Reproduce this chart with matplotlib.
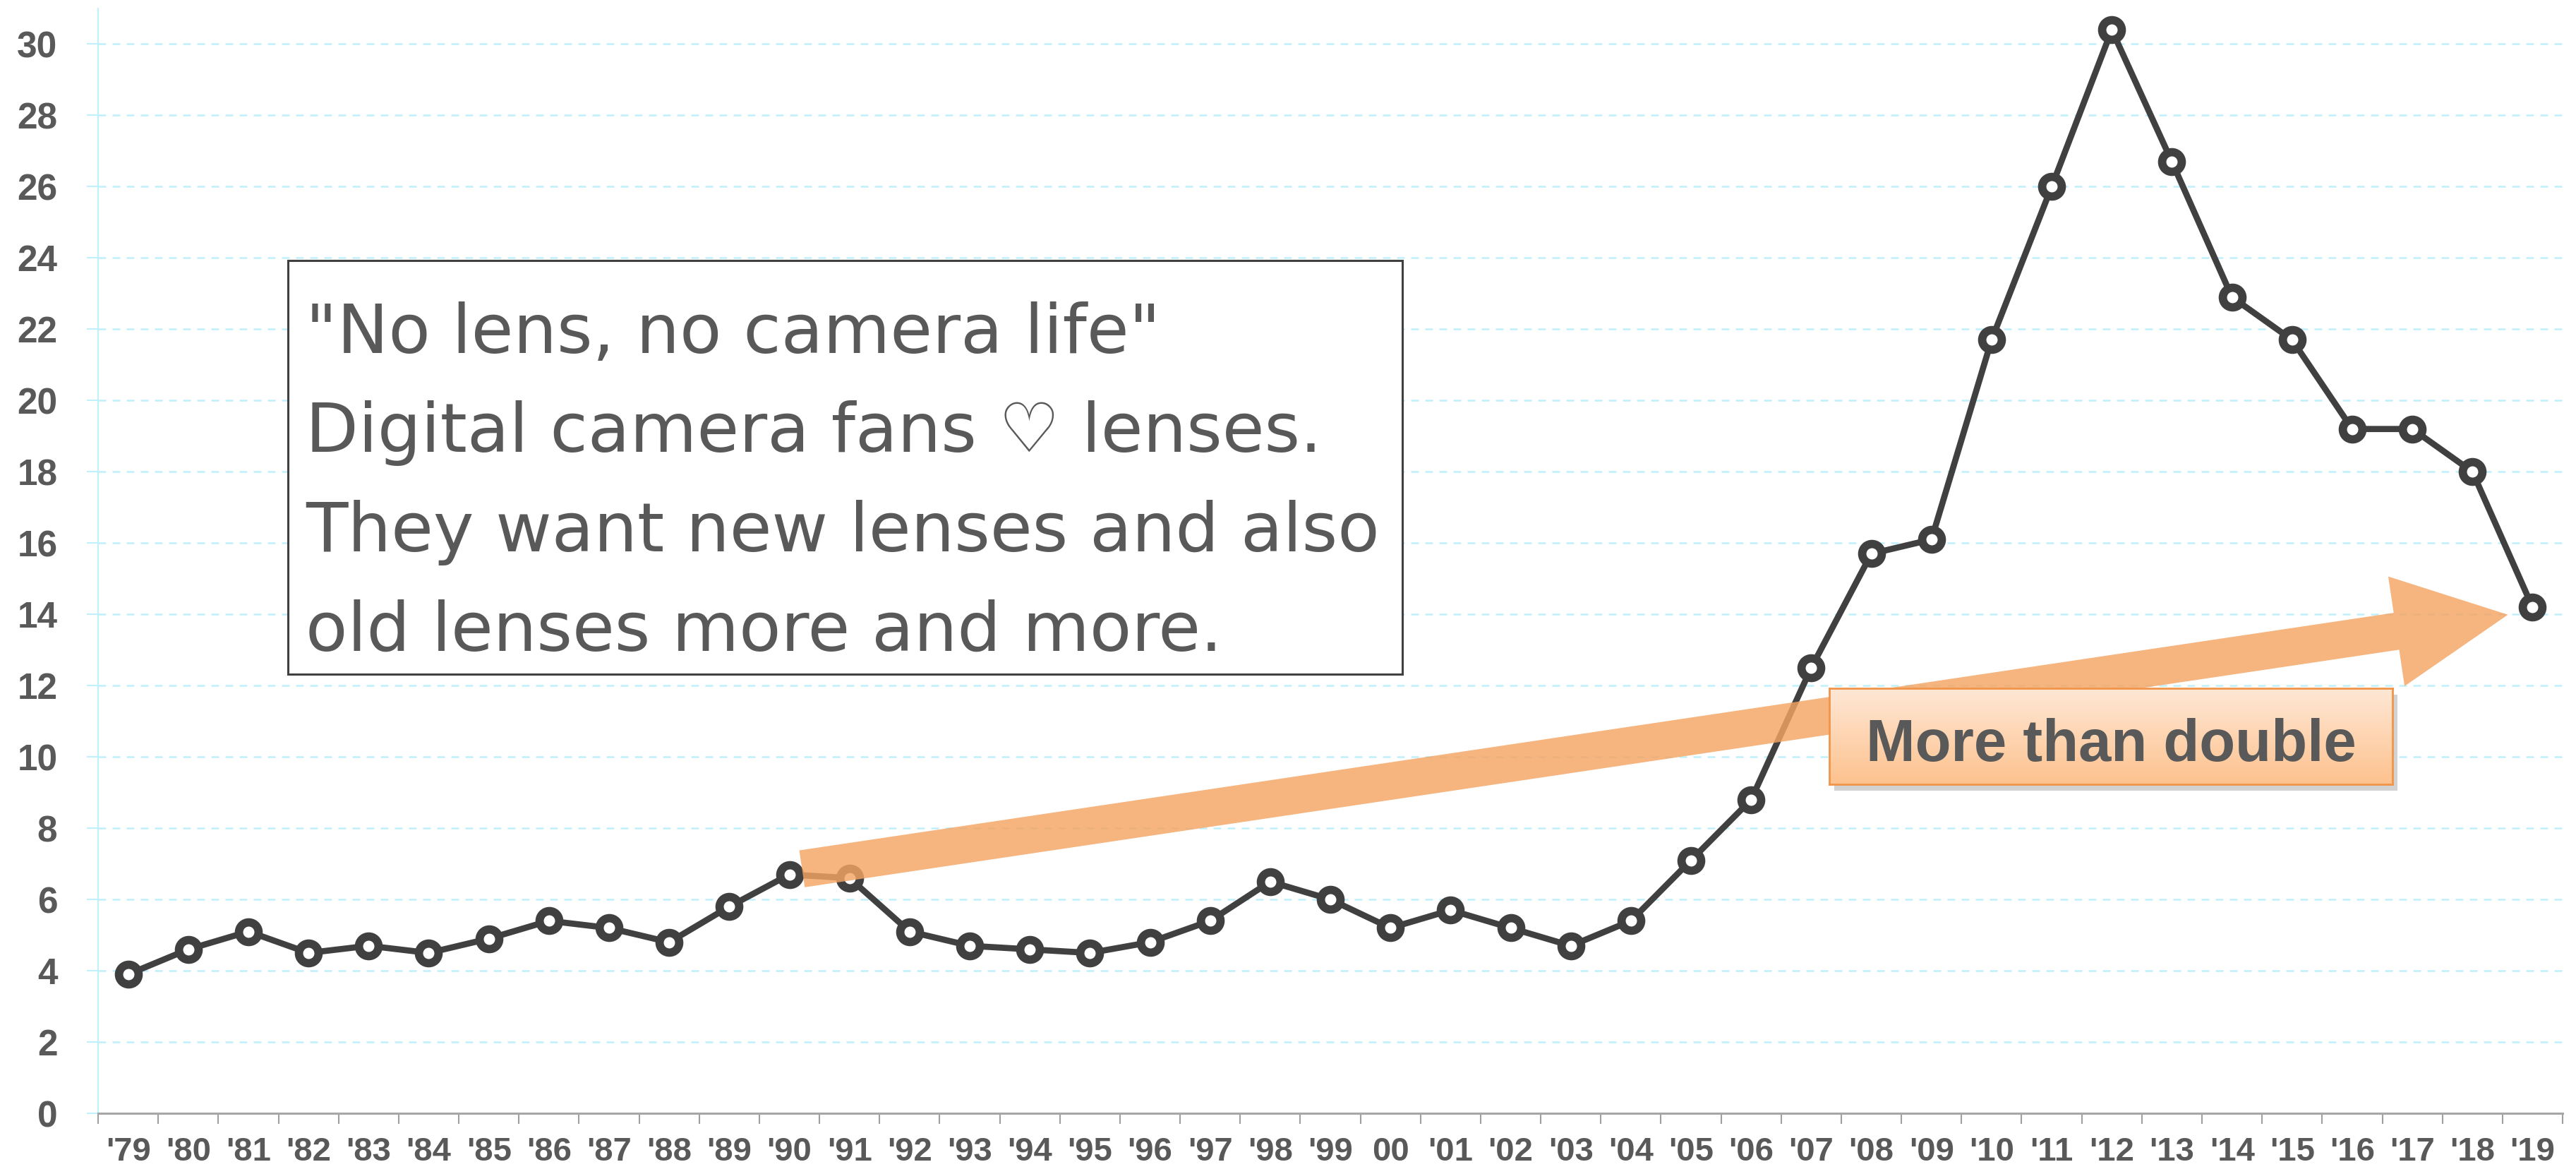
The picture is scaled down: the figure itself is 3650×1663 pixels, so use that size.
import numpy as np
import matplotlib
matplotlib.use("Agg")
import matplotlib.pyplot as plt
from matplotlib.font_manager import FontProperties
from matplotlib.patches import Rectangle

# ---- data ----
years = ["'79", "'80", "'81", "'82", "'83", "'84", "'85", "'86", "'87", "'88",
         "'89", "'90", "'91", "'92", "'93", "'94", "'95", "'96", "'97", "'98",
         "'99", "00", "'01", "'02", "'03", "'04", "'05", "'06", "'07", "'08",
         "'09", "'10", "'11", "'12", "'13", "'14", "'15", "'16", "'17", "'18", "'19"]
values = [3.9, 4.6, 5.1, 4.5, 4.7, 4.5, 4.9, 5.4, 5.2, 4.8,
          5.8, 6.7, 6.6, 5.1, 4.7, 4.6, 4.5, 4.8, 5.4, 6.5,
          6.0, 5.2, 5.7, 5.2, 4.7, 5.4, 7.1, 8.8, 12.5, 15.7,
          16.1, 21.7, 26.0, 30.4, 26.7, 22.9, 21.7, 19.2, 19.2, 18.0, 14.2]
y_ticks = list(range(0, 31, 2))

note_lines = ['"No lens, no camera life"',
              "Digital camera fans \u2661 lenses.",
              "They want new lenses and also",
              "old lenses more and more."]
badge_text = "More than double"

# trend arrow: from just after '90 to just before '19
arrow_tail = (11.21, 6.86)
arrow_tip = (39.59, 13.99)

TXT = "#595959"
LINE = "#404040"
GRID = "#BFF0FB"
BOLD = ["Liberation Sans", "DejaVu Sans"]

fig = plt.figure(figsize=(36.5, 16.63), dpi=100)
ax = fig.add_axes([0.0381, 0.0517, 0.9567, 0.9411])

x = np.arange(len(years))
ax.plot(x, values, color=LINE, lw=6.3, marker="o", ms=20, mew=8.5,
        mfc="white", mec=LINE, zorder=4, solid_joinstyle="round")

ax.set_xlim(-0.5, len(years) - 0.5)
ax.set_ylim(0, 31)

# y axis
ax.set_yticks(y_ticks)
ax.set_yticklabels([str(v) for v in y_ticks],
                   fontproperties=FontProperties(family=BOLD, weight="bold", size=37),
                   color=TXT)
ax.tick_params(axis="y", length=11.5, width=1.5, color=GRID, pad=30)
ax.yaxis.grid(True, color=GRID, lw=1.8, dashes=(4.4, 3.6))
ax.set_axisbelow(True)

# x axis: labels at centers, ticks between categories
ax.set_xticks(x)
ax.set_xticklabels(years, fontproperties=FontProperties(family=BOLD, weight="bold", size=34),
                   color=TXT)
ax.set_xticks(np.arange(-0.5, len(years)), minor=True)
ax.tick_params(axis="x", which="major", length=0, pad=24)
ax.tick_params(axis="x", which="minor", length=11, width=1.5, color="#A0A0A0")

for s in ["top", "right"]:
    ax.spines[s].set_visible(False)
ax.spines["left"].set_color(GRID)
ax.spines["left"].set_linewidth(1.5)
ax.spines["bottom"].set_color("#A6A6A6")
ax.spines["bottom"].set_linewidth(2.2)

# ---- note box ----
ax.add_patch(Rectangle((0.077, 0.3974), 0.4522, 0.3745, transform=ax.transAxes,
                       facecolor="white", edgecolor=LINE, lw=2.2, zorder=3))
for i, line in enumerate(note_lines):
    ax.text(0.0842, 0.6882 - i * 0.0898, line, transform=ax.transAxes,
            fontsize=70, color=TXT, family="DejaVu Sans", va="baseline",
            ha="left", zorder=5)

# ---- trend arrow ----
ax.annotate("", xy=arrow_tip, xytext=arrow_tail,
            arrowprops=dict(arrowstyle="simple,head_length=115,head_width=113,tail_width=38",
                            mutation_scale=1, fc="#F4A463", ec="none", alpha=0.82,
                            shrinkA=0, shrinkB=0),
            zorder=6)

# ---- badge ----
bx0, bx1, by0, by1 = 0.7025, 0.931, 0.2978, 0.3847
ax.add_patch(Rectangle((bx0 + 0.002, by0 - 0.006), bx1 - bx0, by1 - by0,
                       transform=ax.transAxes, facecolor="#7F7F7F", alpha=0.35,
                       edgecolor="none", zorder=7))
bpos = ax.get_position()
bax = fig.add_axes([bpos.x0 + bx0 * bpos.width, bpos.y0 + by0 * bpos.height,
                    (bx1 - bx0) * bpos.width, (by1 - by0) * bpos.height])
top = np.array([255, 232, 214]) / 255
bot = np.array([253, 194, 142]) / 255
t = np.linspace(0, 1, 100)[:, None]
grad = (top * (1 - t) + bot * t)[:, None, :]
bax.imshow(grad, aspect="auto", extent=[0, 1, 0, 1], origin="upper")
bax.set_xticks([])
bax.set_yticks([])
for s in bax.spines.values():
    s.set_color("#F0954A")
    s.set_linewidth(2)
bax.text(0.5, 0.24, badge_text, transform=bax.transAxes, ha="center",
         va="baseline", fontproperties=FontProperties(family=BOLD, weight="bold", size=60),
         color=TXT)

fig.savefig("out.png", dpi=100)
